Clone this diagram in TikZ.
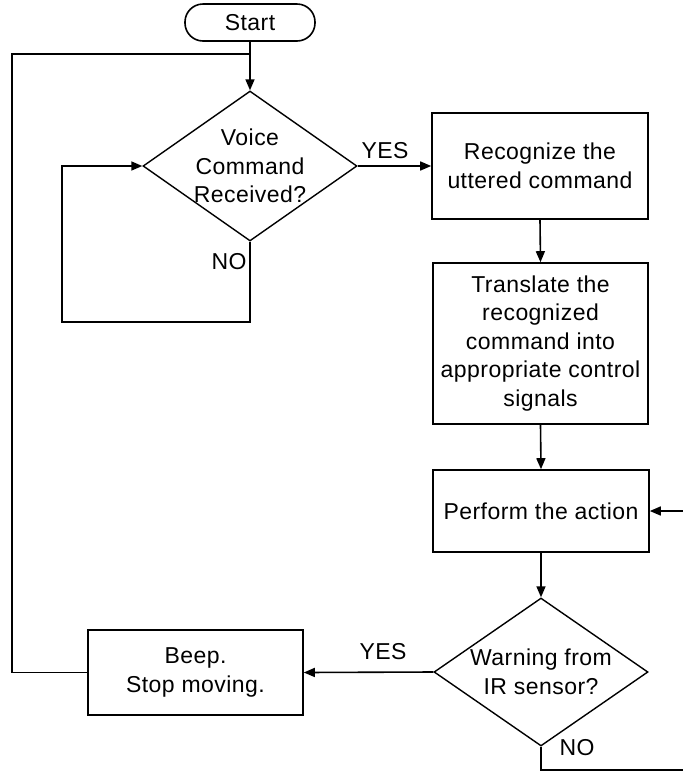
\documentclass[tikz,border=0pt]{standalone}
\usepackage{fontspec}
\setmainfont[LetterSpace=2]{Liberation Sans}
\usetikzlibrary{arrows.meta,shapes.geometric}
\begin{document}
\begin{tikzpicture}[x=1pt,y=-1pt,
  every node/.style={font=\fontsize{23}{28.5}\selectfont},
  box/.style={draw, line width=1.6pt, rectangle, align=center, inner sep=0pt},
  decision/.style={draw, line width=1.4pt, diamond, inner sep=0pt},
  flow/.style={line width=1.6pt, -{Triangle[length=11pt,width=9pt]}},
  link/.style={line width=1.6pt},
  lbl/.style={inner sep=0pt}]
\useasboundingbox (0,0) rectangle (683,772);

% process steps
\node[box, rounded corners=18pt, minimum width=130pt, minimum height=37pt] (start) at (250,22.5) {Start};
\node[decision, minimum width=214pt, minimum height=150pt,
      label={[lbl,align=center]center:{Voice\\Command\\Received?}}] (d1) at (250,166) {};
\node[box, minimum width=216pt, minimum height=106pt] (rec) at (540,166) {Recognize the\\uttered command};
\node[box, minimum width=215pt, minimum height=161pt] (tr) at (540.5,343.5)
  {Translate the\\recognized\\command into\\appropriate control\\signals};
\node[box, minimum width=216pt, minimum height=82pt] (perf) at (541,511) {Perform the action};
\node[decision, minimum width=214pt, minimum height=148pt,
      label={[lbl,align=center]center:{Warning from\\IR sensor?}}] (d2) at (541,672) {};
\node[box, minimum width=215pt, minimum height=85pt] (beep) at (195.5,672.5) {Beep.\\Stop moving.};

% junction and bend points
\coordinate (join) at (250,54);
\coordinate (noA) at (250,322);
\coordinate (noB) at (62,322);
\coordinate (noC) at (62,166);
\coordinate (backA) at (12,672.5);
\coordinate (backB) at (12,54);
\coordinate (loopA) at (541,770);
\coordinate (loopB) at (695,770);
\coordinate (loopC) at (695,511);

% connectors
\draw[flow] (start) -- (d1.north);
\draw[link] (beep.west) -- (backA) -- (backB) -- (join);
\draw[flow] (d1.south) -- (noA) -- (noB) -- (noC) -- (d1.west);
\draw[flow] (d1.east) -- (rec.west);
\draw[flow] (rec.south) -- (tr.north);
\draw[flow] (tr.south) -- (perf.north);
\draw[flow] (perf.south) -- (d2.north);
\draw[flow] (d2.west) -- (beep.east);
\draw[flow] (d2.south) -- (loopA) -- (loopB) -- (loopC) -- (perf.east);

% branch labels
\node[lbl] (no1) at (229,262) {NO};
\node[lbl] (yes1) at (385,151) {YES};
\node[lbl] (yes2) at (383,652) {YES};
\node[lbl] (no2) at (577,748) {NO};
\end{tikzpicture}
\end{document}
